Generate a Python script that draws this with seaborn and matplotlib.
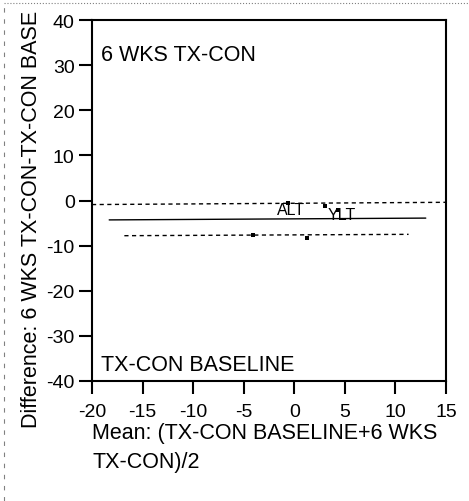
import numpy as np
import pandas as pd
import matplotlib
matplotlib.use("Agg")
import matplotlib.pyplot as plt
from matplotlib.lines import Line2D
import seaborn as sns

# ===================== DADOS =====================
mean_vals = [-0.6, 3.0, 4.3, -4.1, 1.3]
diff_vals = [-0.5, -1.2, -2.1, -7.7, -8.4]

point_labels = ["ALT", "YLT"]
label_x = [-1.7, 3.3]
label_y = [-2.1, -3.0]

# limites de concordância (x inicial/final, y inicial/final)
upper_x = [-20, 15]
upper_y = [-0.9, -0.4]
bias_x = [-18.3, 13.0]
bias_y = [-4.3, -3.9]
lower_x = [-16.8, 11.3]
lower_y = [-7.8, -7.5]

x_ticks = [-20, -15, -10, -5, 0, 5, 10, 15]
y_ticks = [40, 30, 20, 10, 0, -10, -20, -30, -40]

# ===================== GRÁFICO =====================
sns.set_style("white")
plt.rcParams["font.family"] = ["Liberation Sans", "DejaVu Sans"]
plt.rcParams["text.color"] = "black"

fig = plt.figure(figsize=(4.69, 5.02), dpi=100)
ax = fig.add_axes([92 / 469, 1 - 382 / 502, 354 / 469, 361 / 502])

df = pd.DataFrame({"mean": mean_vals, "diff": diff_vals})
sns.scatterplot(data=df, x="mean", y="diff", ax=ax, color="black",
                marker="s", s=10, edgecolor="black", linewidth=0, zorder=3)

ax.plot(upper_x, upper_y, color="black", lw=1.0, ls=(0, (3, 2.5)))
ax.plot(bias_x, bias_y, color="black", lw=1.0, ls="-")
ax.plot(lower_x, lower_y, color="black", lw=1.0, ls=(0, (3, 2.5)))

for lab, lx, ly in zip(point_labels, label_x, label_y):
    ax.text(lx, ly, lab, fontsize=11.5, ha="left", va="center")

ax.text(0.025, 0.905, "6 WKS TX-CON", transform=ax.transAxes, fontsize=15.5,
        ha="left", va="center")
ax.text(0.025, 0.047, "TX-CON BASELINE", transform=ax.transAxes, fontsize=15.5,
        ha="left", va="center")

ax.set_xlim(-20, 15)
ax.set_ylim(-40, 40)
ax.set_xticks(x_ticks)
ax.set_yticks(y_ticks)
ax.set_xticklabels([str(t) for t in x_ticks])
ax.set_yticklabels([str(t) for t in y_ticks])
ax.tick_params(axis="both", direction="out", length=9.5, width=1.5,
               labelsize=14, colors="black", labelcolor="black",
               bottom=True, left=True, pad=3)
ax.tick_params(axis="x", pad=6)
ax.set_xlabel("")
ax.set_ylabel("")
for sp in ax.spines.values():
    sp.set_color("black")
    sp.set_linewidth(1.5)

fig.text(92 / 469, 1 - 448 / 502, "Mean: (TX-CON BASELINE+6 WKS\nTX-CON)/2",
         fontsize=15.5, ha="left", va="center", linespacing=1.45)
# no original o rótulo vertical acaba em "BASE" na borda da imagem
fig.text(32 / 469, 1 - 428 / 502, "Difference: 6 WKS TX-CON-TX-CON BASE",
         fontsize=15.5, rotation=90, ha="center", va="bottom")

# moldura pontilhada do recorte
fig.add_artist(Line2D([4 / 469, 1], [1 - 4 / 502, 1 - 4 / 502],
                      transform=fig.transFigure, color="gray", lw=0.8, ls=":"))
fig.add_artist(Line2D([4 / 469, 4 / 469], [0, 1 - 4 / 502],
                      transform=fig.transFigure, color="gray", lw=0.8, ls=(0, (4, 6))))

fig.savefig("out.png", dpi=100)
